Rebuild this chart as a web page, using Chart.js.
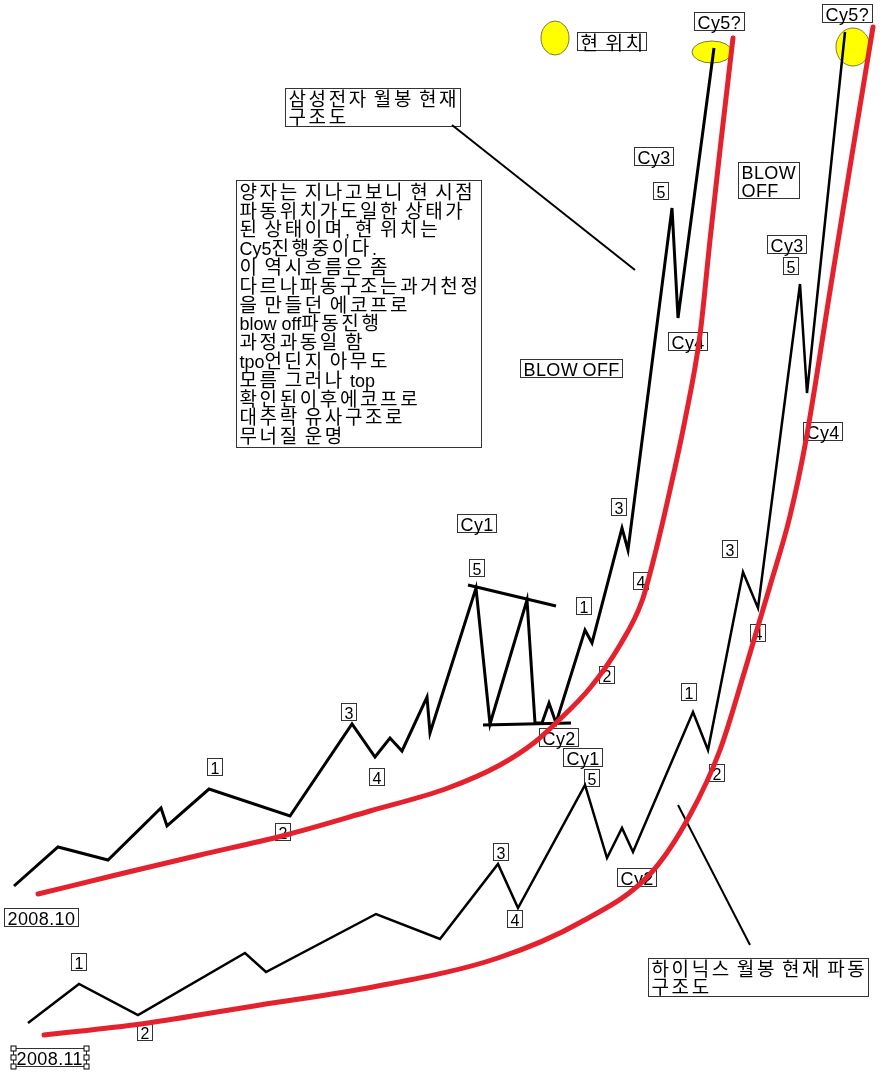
<!DOCTYPE html>
<html><head><meta charset="utf-8">
<script src="https://cdn.jsdelivr.net/npm/chart.js@4.4.0/dist/chart.umd.min.js"></script>
<style>html,body{margin:0;padding:0;background:#fff;}#wrap{width:890px;height:1076px;}</style>
</head><body><div id="wrap"><canvas id="c" width="890" height="1076"></canvas></div>
<script>
// Samsung monthly wave (time index, level)
const samsungX = [14,58,108,161,167,209,290,352,375,390,402,427,430,476,490,527,535,542,549,556,585,592,622,628,672,678,714];
const samsungY = [190,229,216,268,250,287,260,352,319,338,325,379,343,488,352,476,353,353,373,353,446,433,548,526,868,758,1028];
// Samsung red trend curve
const samsungTrendX = [38,120,200,282,370,448,500,535,557,590,620,642,656,670,685,700,710,720,733];
const samsungTrendY = [182,202,221,240,265,288,311,334,354,388,431,475,526,586,656,741,836,926,1038];
// Hynix monthly wave
const hynixX = [28,79,138,245,266,376,440,498,518,585,607,622,633,693,708,743,758,800,807,845];
const hynixY = [53,92,61,123,104,162,137,212,168,291,218,248,224,364,326,504,468,792,683,1044];
// Hynix red trend curve
const hynixTrendX = [44,141,260,373,498,581,651,690,720,745,770,790,806,830,850,873];
const hynixTrendY = [41,52,71,89,118,154,203,261,326,406,490,560,636,785,909,1049];
// helper lines
const pointerSamsungX = [452,635], pointerSamsungY = [951,806];
const pointerHynixX = [750,678], pointerHynixY = [131,271];
const triTopX = [468,556], triTopY = [491,470];
const triBottomX = [483,571], triBottomY = [351,353];
// current-position markers
const markerX = [555,712,853];
const markerY = [1038,1024,1029];
// text labels
const labelTexts = ['현 위치','Cy5?','Cy5?','삼성전자 월봉 현재\n구조도',
 '양자는 지나고보니 현 시점\n파동위치가도일한 상태가\n된 상태이며, 현 위치는\nCy5진행중이다.\n이 역시흐름은 좀\n다르나파동구조는과거천정\n을 만들던 에코프로\nblow off파동진행\n과정과동일 함\ntpo언딘지 아무도\n모름 그러나 top\n확인된이후에코프로\n대추락 유사구조로\n무너질 운명',
 'BLOW OFF','Cy3','5','Cy4','3','4','1','2','Cy2','Cy1','5','3','4','1','2','2008.10',
 'BLOW\nOFF','Cy3','5','Cy4','3','4','1','2','Cy1','5','3','4','1','2','Cy2','2008.11','하이닉스 월봉 현재 파동\n구조도'];
const labelX = [577,694,822,285,236,520,634,653,668,611,633,576,599,539,457,469,341,369,207,275,4,738,767,783,803,722,750,681,709,563,584,493,507,71,137,617,13,648];
const labelY = [1044,1064,1072,988,896,717,929,894,744,578,504,479,410,348,562,517,373,308,318,253,168,914,841,819,654,536,452,393,312,328,307,233,166,123,53,208,28,118];

const pts = (xs, ys) => xs.map((x, i) => ({x, y: ys[i]}));
const blackLine = (xs, ys, w) => ({data: pts(xs, ys), borderColor: '#000', borderWidth: w, pointRadius: 0, tension: 0, clip: false, order: 2, borderJoinStyle: 'miter'});
const redLine = (xs, ys) => ({data: pts(xs, ys), borderColor: '#e3222e', borderWidth: 5, pointRadius: 0, cubicInterpolationMode: 'monotone', clip: false, order: 1, borderCapStyle: 'round'});

const RUNS = /[\u3131-\uD7A3]+|[^\u3131-\uD7A3]+/g;
const HAS_HANGUL = /[\u3131-\uD7A3]/;
function setRun(ctx, hangulRun, size, korean) {
  if (hangulRun) {
    ctx.font = '19px "Noto Sans CJK KR", sans-serif';
    ctx.letterSpacing = '2.6px'; ctx.wordSpacing = '0px';
  } else {
    ctx.font = size + 'px "Liberation Sans", sans-serif';
    ctx.letterSpacing = (size < 17 || korean) ? '0px' : '0.4px';
    ctx.wordSpacing = korean ? '7px' : '-1px';
  }
}
function runLine(ctx, line, size, korean, x, y, draw) {
  let w = 0;
  (line.match(RUNS) || []).forEach(seg => {
    setRun(ctx, HAS_HANGUL.test(seg), size, korean);
    if (draw) ctx.fillText(seg, x + w, y);
    w += ctx.measureText(seg).width;
  });
  return w;
}

const annot = {
  id: 'annot',
  beforeDatasetsDraw(chart) {
    const ctx = chart.ctx, xs = chart.scales.x, ys = chart.scales.y;
    ctx.save();
    const radii = [[14,17],[20,11],[17,19]];
    markerX.forEach((mx, i) => {
      ctx.beginPath();
      ctx.ellipse(xs.getPixelForValue(mx), ys.getPixelForValue(markerY[i]), radii[i][0], radii[i][1], 0, 0, Math.PI * 2);
      ctx.fillStyle = '#ffff00'; ctx.fill();
      ctx.lineWidth = 1; ctx.strokeStyle = '#7a7a30'; ctx.stroke();
    });
    labelTexts.forEach((t, i) => {
      const lines = t.split('\n');
      const digit = /^\d$/.test(t);
      const korean = HAS_HANGUL.test(t);
      const size = digit ? 16 : 18;
      const lh = lines.length > 2 ? 18.8 : 18;
      let w = 0;
      lines.forEach(l => { w = Math.max(w, runLine(ctx, l, size, korean, 0, 0, false)); });
      const bx = Math.round(xs.getPixelForValue(labelX[i])) + 0.5;
      const by = Math.round(ys.getPixelForValue(labelY[i])) + 0.5;
      const bw = Math.round(w + (korean ? 4 : 6));
      let bh = Math.round(lines.length * lh + (digit ? -1 : 0));
      if (korean && lines.length > 2) bh += 4;
      else if (korean && lines.length === 2) bh += 2;
      ctx.fillStyle = '#fff';
      ctx.fillRect(bx, by, bw, bh);
      ctx.lineWidth = 1; ctx.strokeStyle = '#333';
      ctx.strokeRect(bx, by, bw, bh);
      ctx.fillStyle = '#000';
      ctx.textBaseline = 'alphabetic';
      const base = digit ? 15 : (lines.length > 2 ? 18.3 : (korean ? 17.5 : 16));
      lines.forEach((l, k) => runLine(ctx, l, size, korean, bx + 3, by + lh * k + base, true));
      if (t === '2008.11') {
        ctx.fillStyle = '#fff'; ctx.strokeStyle = '#000';
        [[bx, by], [bx + bw, by], [bx, by + bh], [bx + bw, by + bh], [bx, by + bh / 2], [bx + bw, by + bh / 2]].forEach(([hx, hy]) => {
          ctx.fillRect(hx - 2.5, hy - 2.5, 5, 5); ctx.strokeRect(hx - 2.5, hy - 2.5, 5, 5);
        });
      }
    });
    ctx.letterSpacing = '0px'; ctx.wordSpacing = '0px';
    ctx.restore();
  }
};

new Chart(document.getElementById('c'), {
  type: 'line',
  data: {
    datasets: [
      blackLine(samsungX, samsungY, 3),
      blackLine(hynixX, hynixY, 2.5),
      blackLine(pointerSamsungX, pointerSamsungY, 2),
      blackLine(pointerHynixX, pointerHynixY, 2),
      blackLine(triTopX, triTopY, 3),
      blackLine(triBottomX, triBottomY, 3),
      redLine(samsungTrendX, samsungTrendY),
      redLine(hynixTrendX, hynixTrendY)
    ]
  },
  options: {
    responsive: false,
    animation: false,
    devicePixelRatio: 1,
    layout: {padding: 0},
    plugins: {legend: {display: false}, tooltip: {enabled: false}},
    scales: {
      x: {type: 'linear', min: 0, max: 890, display: false},
      y: {type: 'linear', min: 0, max: 1076, display: false}
    }
  },
  plugins: [annot]
});
</script></body></html>
